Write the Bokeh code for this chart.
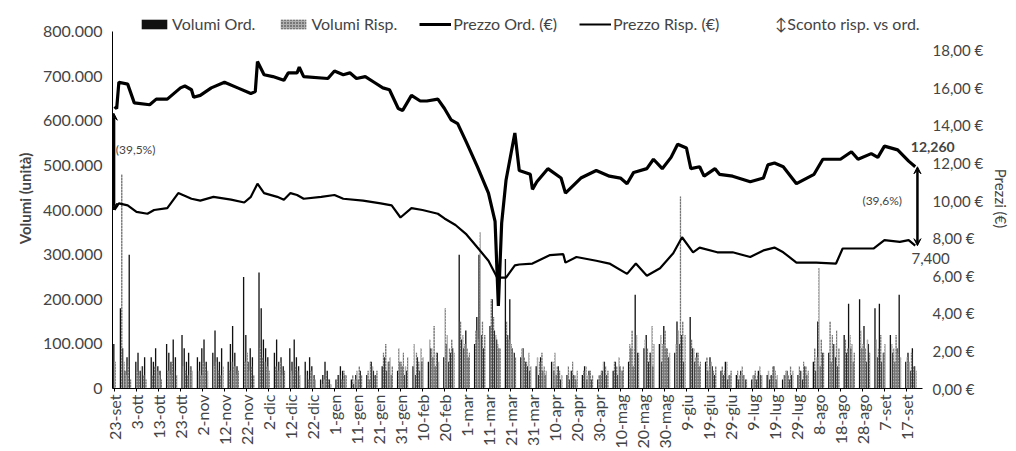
import math
import pandas as pd
from bokeh.plotting import figure
from bokeh.models import (Range1d, LinearAxis, FixedTicker, Legend, LegendItem,
                          Label, Arrow, VeeHead, ColumnDataSource)
from bokeh.embed import file_html
from bokeh.resources import INLINE

# ---------------- data ----------------
tick_labels = ["23-set", "3-ott", "13-ott", "23-ott", "2-nov", "12-nov", "22-nov", "2-dic",
               "12-dic", "22-dic", "1-gen", "11-gen", "21-gen", "31-gen", "10-feb", "20-feb",
               "1-mar", "11-mar", "21-mar", "31-mar", "10-apr", "20-apr", "30-apr", "10-mag",
               "20-mag", "30-mag", "9-giu", "19-giu", "29-giu", "9-lug", "19-lug", "29-lug",
               "8-ago", "18-ago", "28-ago", "7-set", "17-set"]

# trading days (business days) 23-set-2011 .. 21-set-2012
trade_dates = pd.bdate_range("2011-09-23", "2012-09-21")

# volumes, thousands of units, one value per trading day (first = Fri 23-set, then weeks Mon..Fri)
vol_ord_k = [100,
    180, 90, 40, 70, 300,
    60, 80, 40, 50, 70,
    70, 60, 90, 50, 40,
    100, 80, 60, 110, 70,
    120, 90, 60, 80, 50,
    70, 60, 90, 110, 60,
    80, 130, 70, 60, 90,
    60, 100, 140, 80, 50,
    250, 120, 60, 90, 70,
    260, 180, 110, 90, 70,
    80, 110, 60, 70, 50,
    90, 60, 110, 70, 50,
    60, 40, 70, 50, 30,
    20, 30, 60, 40, 20,
    20, 30, 50, 40, 30,
    20, 10, 30, 20, 40,
    30, 20, 60, 40, 30,
    50, 70, 40, 60, 30,
    40, 60, 50, 30, 40,
    50, 30, 70, 40, 60,
    60, 90, 70, 50, 80,
    70, 100, 60, 80, 90,
    300, 110, 90, 130, 70,
    100, 160, 300, 120, 90,
    140, 200, 130, 110, 90,
    290, 120, 200, 90, 80,
    70, 90, 60, 50, 40,
    50, 30, 70, 40, 30,
    60, 40, 30, 50, 20,
    30, 20, 40, 30, 20,
    30, 50, 20, 40, 20,
    20, 30, 40, 60, 30,
    40, 60, 30, 50, 40,
    60, 90, 50, 210, 80,
    90, 120, 60, 80, 50,
    100, 60, 140, 90, 70,
    80, 150, 100, 120, 60,
    160, 90, 60, 80, 50,
    60, 40, 70, 50, 30,
    40, 30, 60, 20, 30,
    30, 20, 40, 30, 20,
    20, 30, 20, 40, 30,
    30, 20, 30, 50, 20,
    20, 30, 40, 20, 30,
    30, 40, 20, 50, 30,
    60, 40, 150, 50, 80,
    80, 60, 100, 70, 50,
    120, 80, 190, 90, 60,
    200, 90, 140, 60, 100,
    180, 70, 190, 60, 80,
    120, 80, 60, 90, 210,
    60, 80, 40, 90, 50]

vol_risp_k = [60,
    480, 60, 30, 50, 20,
    40, 30, 50, 30, 20,
    30, 50, 40, 30, 20,
    40, 30, 60, 40, 30,
    50, 40, 30, 50, 40,
    40, 30, 60, 50, 40,
    50, 60, 40, 30, 50,
    40, 60, 50, 30, 40,
    60, 80, 40, 50, 30,
    90, 70, 60, 50, 40,
    50, 40, 60, 30, 40,
    40, 30, 50, 40, 30,
    30, 20, 40, 30, 20,
    10, 20, 30, 20, 10,
    20, 30, 20, 40, 30,
    30, 20, 40, 50, 30,
    40, 60, 50, 30, 40,
    80, 100, 60, 70, 50,
    90, 60, 80, 50, 70,
    100, 80, 60, 90, 70,
    110, 90, 140, 80, 60,
    180, 120, 90, 110, 80,
    150, 120, 100, 90, 80,
    130, 110, 350, 150, 120,
    200, 160, 120, 100, 90,
    150, 110, 100, 80, 70,
    90, 70, 60, 80, 50,
    70, 60, 80, 50, 40,
    60, 80, 50, 40, 30,
    50, 40, 60, 30, 40,
    40, 50, 30, 40, 30,
    30, 40, 60, 50, 40,
    60, 50, 70, 40, 50,
    100, 130, 90, 120, 80,
    110, 90, 80, 140, 100,
    120, 100, 130, 90, 80,
    100, 130, 430, 150, 120,
    110, 90, 70, 80, 60,
    70, 50, 60, 40, 50,
    50, 40, 60, 30, 40,
    40, 30, 50, 30, 20,
    30, 40, 30, 50, 30,
    40, 30, 50, 40, 30,
    30, 40, 30, 50, 40,
    50, 40, 60, 50, 40,
    90, 70, 270, 110, 80,
    150, 120, 100, 130, 90,
    110, 90, 120, 100, 80,
    130, 100, 90, 110, 80,
    110, 90, 120, 80, 100,
    100, 90, 120, 80, 70,
    70, 60, 80, 50, 40]

# price lines: day offset from 23-set and price (EUR)
ord_days = [0, 1, 2, 6, 9, 16, 19, 24, 30, 32, 35, 36, 39, 44, 50, 56, 62, 64, 65, 68, 72, 77,
            79, 83, 84, 86, 97, 100, 104, 107, 110, 114, 118, 122, 125, 129, 131, 135, 139, 142,
            147, 150, 153, 156, 160, 165, 170, 173, 174.5, 176, 178, 182, 184, 189, 190, 192,
            197, 203, 205, 212, 219, 225, 230, 233, 236, 242, 245, 249, 253, 256, 260, 262, 266,
            268, 273, 275, 281, 289, 295, 297, 300, 304, 310, 318, 322, 330, 335, 338, 344, 347,
            350, 356, 361, 364]
ord_price = [15.0, 14.9, 16.3, 16.2, 15.2, 15.1, 15.4, 15.4, 16.0, 16.1, 15.9, 15.5, 15.6, 16.0,
             16.3, 16.0, 15.7, 15.8, 17.4, 16.7, 16.6, 16.4, 16.8, 16.8, 17.1, 16.6, 16.5, 16.9,
             16.7, 16.8, 16.5, 16.6, 16.3, 16.0, 15.9, 14.9, 14.8, 15.6, 15.3, 15.3, 15.4, 14.9,
             14.3, 14.1, 13.1, 11.8, 10.4, 8.9, 4.4, 8.8, 11.1, 13.6, 11.6, 11.4, 10.6, 11.0,
             11.7, 11.2, 10.4, 11.2, 11.6, 11.3, 11.2, 10.9, 11.5, 11.7, 12.2, 11.7, 12.3, 13.0,
             12.8, 11.7, 11.8, 11.3, 11.7, 11.4, 11.3, 11.0, 11.2, 11.9, 12.0, 11.8, 10.9, 11.4,
             12.2, 12.2, 12.6, 12.2, 12.5, 12.3, 12.9, 12.7, 12.1, 11.8]

risp_days = [0, 2, 6, 10, 15, 18, 24, 29, 35, 39, 45, 53, 59, 62, 65, 68, 74, 77, 80, 83, 86, 94,
             100, 104, 113, 121, 126, 130, 135, 140, 147, 150, 155, 160, 165, 170, 174, 178, 182,
             184, 190, 198, 204, 205, 210, 219, 225, 233, 237, 242, 248, 254, 258, 263, 266, 274,
             281, 289, 295, 300, 304, 310, 319, 328, 331, 339, 345, 350, 357, 361, 364]
risp_price = [9.5, 9.85, 9.75, 9.4, 9.3, 9.5, 9.6, 10.4, 10.1, 10.0, 10.2, 10.05, 9.9, 10.2, 10.9,
              10.4, 10.2, 10.05, 10.4, 10.3, 10.1, 10.2, 10.3, 10.1, 10.0, 9.85, 9.75, 9.1, 9.6,
              9.5, 9.3, 9.05, 8.7, 8.2, 7.5, 6.8, 5.9, 5.9, 6.55, 6.6, 6.65, 7.1, 7.15, 6.7, 7.0,
              6.8, 6.65, 6.1, 6.65, 6.0, 6.4, 7.2, 8.05, 7.25, 7.5, 7.25, 7.25, 7.0, 7.35, 7.5,
              7.25, 6.7, 6.7, 6.65, 7.45, 7.45, 7.45, 7.9, 7.8, 7.9, 7.6]

disc_start_label = "(39,5%)"
disc_end_label = "(39,6%)"
end_ord_label = "12,260"
end_risp_label = "7,400"

# ---------------- chart ----------------
FONT = "Lato"
VOL_MAX, PRICE_MAX = 800000, 19.0
FRAME_H, PLOT_H = 380, 357          # frame also holds the legend strip above the plot area
FRAME_W = 844
X0, X1 = -0.9, 367.3
X_END = X0 + (X1 - X0) * FRAME_W / 810   # room on the right for the end-value labels

n = min(len(trade_dates), len(vol_ord_k), len(vol_risp_k))
bar_day = [int((d - trade_dates[0]).days) for d in trade_dates[:n]]
bars = ColumnDataSource(dict(
    x_ord=[d - 0.3 for d in bar_day],
    x_risp=[d + 0.3 for d in bar_day],
    v_ord=[v * 1000 for v in vol_ord_k[:n]],
    v_risp=[v * 1000 for v in vol_risp_k[:n]],
))

p = figure(frame_width=FRAME_W, frame_height=FRAME_H, x_range=Range1d(X0, X_END),
           y_range=Range1d(0, VOL_MAX * FRAME_H / PLOT_H), output_backend="svg",
           toolbar_location=None, min_border_left=112, min_border_right=0,
           min_border_top=8, min_border_bottom=0)
p.extra_y_ranges = {"price": Range1d(0, PRICE_MAX * FRAME_H / PLOT_H)}
p.xgrid.visible = False
p.ygrid.visible = False
p.outline_line_color = None

r_ord = p.vbar(x="x_ord", top="v_ord", width=0.6, source=bars, fill_color="#111111",
               line_color=None)
r_risp = p.vbar(x="x_risp", top="v_risp", width=0.6, source=bars, fill_color="#b0b0b0",
                line_color=None, hatch_pattern="dot", hatch_color="#222222", hatch_scale=3,
                hatch_weight=1.2)
l_ord = p.line(ord_days, ord_price, y_range_name="price", line_color="black", line_width=3.2)
l_risp = p.line(risp_days, risp_price, y_range_name="price", line_color="black", line_width=2.2)
r_arrow = p.scatter(x=[-50], y=[-50], size=0, fill_alpha=0, line_alpha=0,
                    y_range_name="price")

# arrows for discount
p.add_layout(Arrow(start=VeeHead(size=7), end=VeeHead(size=7), x_start=-0.3, x_end=-0.3,
                   y_start=ord_price[0] - 0.35, y_end=risp_price[0], y_range_name="price",
                   line_width=3))
p.add_layout(Arrow(start=VeeHead(size=7), end=VeeHead(size=7), x_start=ord_days[-1] + 1,
                   x_end=risp_days[-1] + 1, y_start=ord_price[-1], y_end=risp_price[-1],
                   y_range_name="price", line_width=2.5))

p.add_layout(Label(x=0.6, y=12.7, text=disc_start_label, text_baseline="middle",
                   text_font=FONT, text_font_size="12px", y_range_name="price"))
p.add_layout(Label(x=340, y=10.0, text=disc_end_label, text_baseline="middle",
                   text_font=FONT, text_font_size="12px", y_range_name="price"))
p.add_layout(Label(x=362.0, y=12.83, text=end_ord_label, text_baseline="middle",
                   text_font=FONT, text_font_size="14px", text_font_style="bold",
                   y_range_name="price"))
p.add_layout(Label(x=362.3, y=6.92, text=end_risp_label, text_baseline="middle",
                   text_font=FONT, text_font_size="15px", y_range_name="price"))

# x axis
ticks = [10 * i for i in range(len(tick_labels))]
xa = p.xaxis[0]
xa.bounds = (X0, X1)
xa.ticker = FixedTicker(ticks=ticks)
xa.major_label_overrides = {t: s for t, s in zip(ticks, tick_labels)}
xa.major_label_orientation = math.pi / 2
xa.major_label_text_font = FONT
xa.major_label_text_font_size = "16px"
xa.major_label_standoff = 3
xa.major_tick_out = 3
xa.major_tick_in = 0
xa.minor_tick_line_color = None

# left axis
left_ticks = [100000 * i for i in range(9)]
ya = p.yaxis[0]
ya.bounds = (0, VOL_MAX)
ya.ticker = FixedTicker(ticks=left_ticks)
ya.major_label_overrides = {t: f"{t:,}".replace(",", ".") for t in left_ticks}
ya.major_label_text_font = FONT
ya.major_label_text_font_size = "16px"
ya.major_tick_out = 0
ya.major_tick_in = 0
ya.minor_tick_line_color = None
ya.axis_label = "Volumi (unità)"
ya.axis_label_text_font = FONT
ya.axis_label_text_font_style = "bold"
ya.axis_label_text_font_size = "15px"
ya.axis_label_standoff = 6
ya.major_label_standoff = 10

# right axis (labels pulled back over the label strip so they sit where the reference has them)
right_ticks = [2 * i for i in range(10)]
ra = LinearAxis(y_range_name="price", ticker=FixedTicker(ticks=right_ticks))
ra.major_label_overrides = {t: f"{t},00 €" for t in right_ticks}
ra.major_label_text_font = FONT
ra.major_label_text_font_size = "15px"
ra.axis_line_color = None
ra.major_tick_line_color = None
ra.minor_tick_line_color = None
ra.major_tick_out = 0
ra.major_tick_in = 0
ra.major_label_standoff = -24
ra.axis_label = "Prezzi (€)"
ra.axis_label_text_font = FONT
ra.axis_label_text_font_style = "normal"
ra.axis_label_text_font_size = "15px"
ra.axis_label_standoff = 6
p.add_layout(ra, "right")

legend = Legend(items=[
    LegendItem(label="Volumi Ord.", renderers=[r_ord]),
    LegendItem(label="Volumi Risp.", renderers=[r_risp]),
    LegendItem(label="Prezzo Ord. (€)", renderers=[l_ord]),
    LegendItem(label="Prezzo Risp. (€)", renderers=[l_risp]),
    LegendItem(label="↕Sconto risp. vs ord.", renderers=[r_arrow]),
], orientation="horizontal", location=(26, FRAME_H - 25))
legend.label_text_font = FONT
legend.label_text_font_size = "16px"
legend.label_height = 18
legend.glyph_width = 32
legend.glyph_height = 12
legend.spacing = 22
legend.padding = 2
legend.margin = 0
legend.label_standoff = 2
legend.border_line_color = None
legend.background_fill_alpha = 0
p.add_layout(legend)

open("out.html", "w").write(file_html(p, INLINE))
